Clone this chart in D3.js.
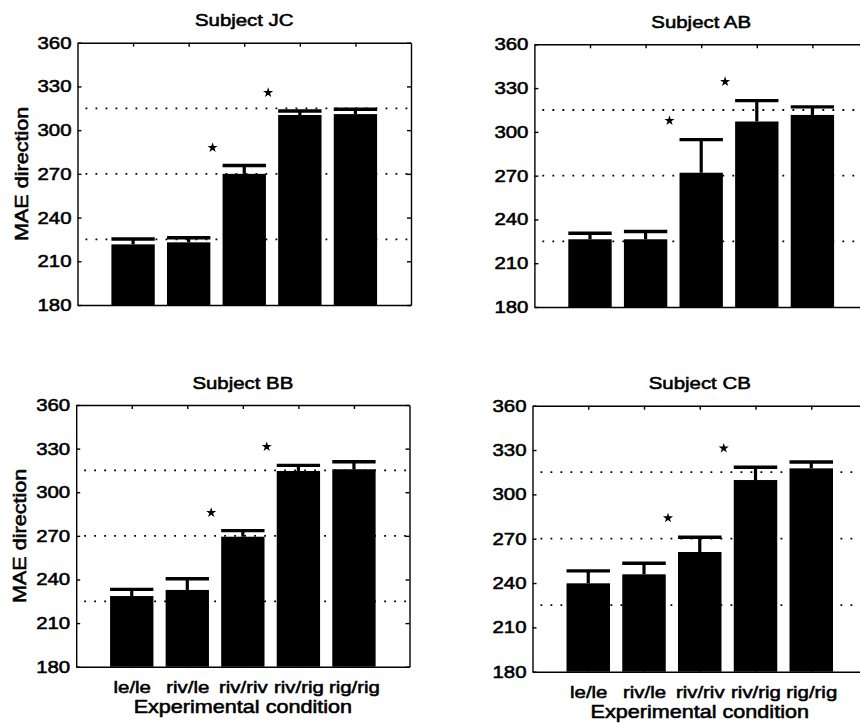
<!DOCTYPE html>
<html>
<head>
<meta charset="utf-8">
<script src="https://cdn.jsdelivr.net/npm/d3@7"></script>
<style>
    body { margin: 0; background: #fff; }
    text { font-family: "Liberation Sans", Arial, Helvetica, sans-serif; fill: #000; stroke: #000; stroke-width: 0.55px; }
</style>
</head>
<body>
<svg id="chart" width="860" height="723"></svg>
<script>
// chart values
var conditions = ["le/le", "riv/le", "riv/riv", "riv/rig", "rig/rig"];
var yTicks = [180, 210, 240, 270, 300, 330, 360];
var refLevels = [225, 270, 315];
var starConditions = [2.43, 3.43];

var meanJC = [221.6, 223.0, 270.0, 310.4, 311.0];
var errJC = [3.7, 3.2, 5.7, 2.7, 3.3];
var starJC = [288, 325.7];

var meanAB = [226.4, 226.4, 272.0, 307.1, 311.6];
var errAB = [4.1, 5.3, 22.7, 14.3, 5.5];
var starAB = [307.7, 334.4];

var meanBB = [228.6, 232.8, 269.4, 314.6, 315.8];
var errBB = [4.6, 7.7, 4.2, 3.9, 5.2];
var starBB = [286, 331.3];

var meanCB = [239.8, 245.9, 261.0, 309.7, 317.6];
var errCB = [8.4, 7.5, 10.0, 8.6, 4.3];
var starCB = [284, 331.2];

function drawChart() {
    'use strict';

    var svg = d3.select("#chart"),
        stretch = 1.2,   // the scanned lettering is wider than Helvetica
        fontSize = 17,
        panels = [
            {title: "Subject JC", mean: meanJC, err: errJC, star: starJC,
             left: 77.5, right: 411, top: 42.7, bottom: 305, yLabel: true, xLabels: false},
            {title: "Subject AB", mean: meanAB, err: errAB, star: starAB,
             left: 534.4, right: 868, top: 44.3, bottom: 307, yLabel: false, xLabels: false},
            {title: "Subject BB", mean: meanBB, err: errBB, star: starBB,
             left: 76.2, right: 409.5, top: 405, bottom: 666.7, yLabel: true, xLabels: true},
            {title: "Subject CB", mean: meanCB, err: errCB, star: starCB,
             left: 532.5, right: 867, top: 405.7, bottom: 671.7, yLabel: false, xLabels: true}
        ];

    /**
      * Put a horizontally stretched text at (x, y).
      */
    function addText(g, x, y, str, anchor, size, rotate) {
        var tf = "translate(" + x + "," + y + ")" + (rotate ? " rotate(-90)" : "") + " scale(" + stretch + ",1)";
        return g.append("text")
            .attr("transform", tf)
            .attr("text-anchor", anchor)
            .style("font-size", size + "px")
            .text(str);
    }

    /**
      * Widen the tick labels an axis call just made.
      */
    function styleTickText(a) {
        a.selectAll("text")
            .attr("transform", "scale(" + stretch + ",1)")
            .style("font-size", fontSize + "px")
            .style("font-family", null);
    }

    function drawPanel(p) {
        var g = svg.append("g"),
            x = d3.scaleLinear().domain([0, 6]).range([p.left, p.right]),
            y = d3.scaleLinear().domain([180, 360]).range([p.bottom, p.top]),
            bw = (x(1) - x(0)) * 0.78,
            midX = (p.left + p.right) / 2,
            bars;

        // dotted reference levels, behind the bars
        g.selectAll("line.ref")
            .data(refLevels)
            .enter()
            .append("line")
            .attr("class", "ref")
            .attr("x1", p.left + 8)
            .attr("x2", p.right)
            .attr("y1", function (d) { return y(d); })
            .attr("y2", function (d) { return y(d); })
            .attr("stroke", "#000")
            .attr("stroke-width", 1.8)
            .attr("stroke-dasharray", "1.8,8.2");

        bars = g.selectAll("g.bar")
            .data(p.mean.map(function (m, i) { return {i: i + 1, mean: m, err: p.err[i]}; }))
            .enter()
            .append("g")
            .attr("class", "bar");

        bars.append("rect")
            .attr("x", function (d) { return x(d.i) - bw / 2; })
            .attr("y", function (d) { return y(d.mean); })
            .attr("width", bw)
            .attr("height", function (d) { return y(180) - y(d.mean); })
            .attr("fill", "#000");

        // error bars: stem up to mean + err and a cap as wide as the bar
        bars.append("line")
            .attr("x1", function (d) { return x(d.i); })
            .attr("x2", function (d) { return x(d.i); })
            .attr("y1", function (d) { return y(d.mean); })
            .attr("y2", function (d) { return y(d.mean + d.err); })
            .attr("stroke", "#000")
            .attr("stroke-width", 3.2);
        bars.append("line")
            .attr("x1", function (d) { return x(d.i) - bw / 2; })
            .attr("x2", function (d) { return x(d.i) + bw / 2; })
            .attr("y1", function (d) { return y(d.mean + d.err); })
            .attr("y2", function (d) { return y(d.mean + d.err); })
            .attr("stroke", "#000")
            .attr("stroke-width", 3.4);

        // significance stars
        g.selectAll("path.star")
            .data(starConditions.map(function (c, i) { return {c: c, v: p.star[i]}; }))
            .enter()
            .append("path")
            .attr("class", "star")
            .attr("d", d3.symbol().type(d3.symbolStar).size(32))
            .attr("transform", function (d) { return "translate(" + x(d.c) + "," + y(d.v) + ")"; })
            .attr("fill", "#000");

        // box with inward ticks on all four sides
        g.append("g")
            .attr("transform", "translate(" + p.left + ",0)")
            .call(d3.axisLeft(y).tickValues(yTicks).tickSize(-4).tickSizeOuter(0).tickPadding(5))
            .call(styleTickText);
        g.append("g")
            .attr("transform", "translate(" + p.right + ",0)")
            .call(d3.axisRight(y).tickValues(yTicks).tickSize(-4).tickSizeOuter(0).tickFormat(""));
        g.append("g")
            .attr("transform", "translate(0," + p.top + ")")
            .call(d3.axisTop(x).tickValues([1, 2, 3, 4, 5]).tickSize(-4).tickSizeOuter(0).tickFormat(""));
        g.append("g")
            .attr("transform", "translate(0," + p.bottom + ")")
            .call(d3.axisBottom(x).tickValues([1, 2, 3, 4, 5]).tickSize(-4).tickSizeOuter(0).tickPadding(14)
                .tickFormat(function (d) { return p.xLabels ? conditions[d - 1] : ""; }))
            .call(styleTickText);
        g.selectAll(".domain, .tick line").attr("stroke", "#000").attr("stroke-width", 1.4);

        addText(g, midX, p.top - 16.5, p.title, "middle", fontSize);
        if (p.yLabel) {
            addText(g, p.left - 50, (p.top + p.bottom) / 2, "MAE direction", "middle", 18, true);
        }
        if (p.xLabels) {
            addText(g, midX, p.bottom + 46, "Experimental condition", "middle", 18);
        }
    }

    panels.forEach(drawPanel);
}

drawChart();
</script>
</body>
</html>
